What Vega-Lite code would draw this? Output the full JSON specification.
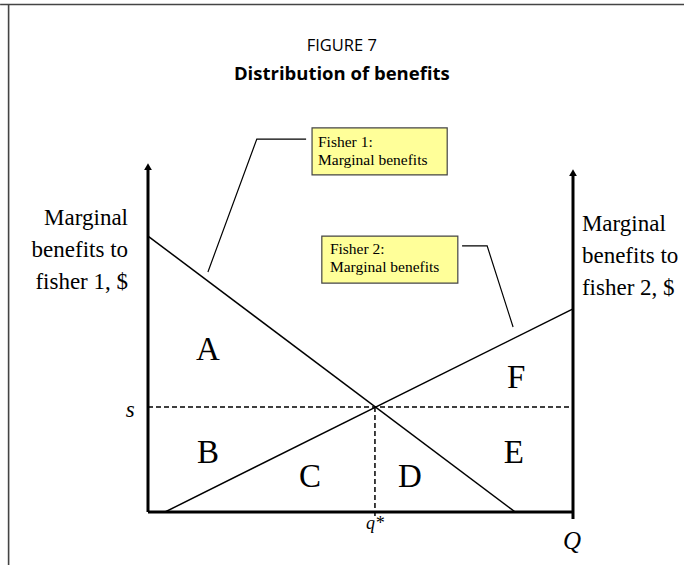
{
  "$schema": "https://vega.github.io/schema/vega-lite/v6.json",
  "width": 684,
  "height": 565,
  "padding": 0,
  "autosize": "none",
  "background": "white",
  "config": {"view": {"stroke": null}},
  "datasets": {
    "curves": [
      {"curve": "Fisher 1", "x": 0, "y": 131.4},
      {"curve": "Fisher 1", "x": 86.4, "y": 0},
      {"curve": "Fisher 2", "x": 4, "y": 0},
      {"curve": "Fisher 2", "x": 100, "y": 96.7}
    ],
    "leaders": [
      {"leader": "l1", "o": 1, "x": 37.2, "y": 177.6},
      {"leader": "l1", "o": 2, "x": 25.6, "y": 177.6},
      {"leader": "l1", "o": 3, "x": 14.1, "y": 114.3},
      {"leader": "l2", "o": 1, "x": 73.9, "y": 126.7},
      {"leader": "l2", "o": 2, "x": 79.8, "y": 126.7},
      {"leader": "l2", "o": 3, "x": 85.9, "y": 88.1}
    ],
    "axes": [
      {"x": 0, "y": 0, "x2": 0, "y2": 163},
      {"x": 100, "y": -3.3, "x2": 100, "y2": 160},
      {"x": 0, "y": 0, "x2": 100, "y2": 0}
    ],
    "arrows": [
      {"x": 0, "y": 164.5},
      {"x": 100, "y": 161.6}
    ],
    "dashed": [
      {"x": 0, "y": 50, "x2": 100, "y2": 50},
      {"x": 53.4, "y": 50, "x2": 53.4, "y2": -3}
    ],
    "frame": [
      {"x": -34.8, "y": 241.7, "x2": 126.2, "y2": 241.7},
      {"x": -32.8, "y": 241.9, "x2": -32.8, "y2": -25.3}
    ],
    "boxes": [
      {"x": 38.6, "x2": 70.4, "y": 182.9, "y2": 160.5},
      {"x": 40.9, "x2": 72.9, "y": 131.4, "y2": 109.0}
    ],
    "boxText": [
      {"x": 40.0, "y": 173.6, "label": ["Fisher 1:", "Marginal benefits"]},
      {"x": 42.8, "y": 122.7, "label": ["Fisher 2:", "Marginal benefits"]}
    ],
    "regions": [
      {"x": 14.1, "y": 77.1, "label": "A"},
      {"x": 14.1, "y": 28.1, "label": "B"},
      {"x": 38.1, "y": 16.7, "label": "C"},
      {"x": 61.6, "y": 16.7, "label": "D"},
      {"x": 86.1, "y": 28.1, "label": "E"},
      {"x": 86.6, "y": 63.8, "label": "F"}
    ],
    "sLabel": [{"x": -4.2, "y": 48.8, "label": "s"}],
    "qLabel": [{"x": 53.4, "y": -5.8, "label": "q*"}],
    "QLabel": [{"x": 99.8, "y": -14.0, "label": "Q"}],
    "axisLeft": [
      {"x": -4.7, "y": 136.7, "label": ["Marginal", "benefits to", "fisher 1, $"]}
    ],
    "axisRight": [
      {"x": 102.1, "y": 133.8, "label": ["Marginal", "benefits to", "fisher 2, $"]}
    ],
    "title1": [{"x": 45.6, "y": 221.9, "label": "FIGURE 7"}],
    "title2": [{"x": 45.6, "y": 208.6, "label": "Distribution of benefits"}]
  },
  "encoding": {
    "x": {"field": "x", "type": "quantitative", "scale": {"domain": [-34.824, 126.118], "nice": false, "zero": false}, "axis": null},
    "y": {"field": "y", "type": "quantitative", "scale": {"domain": [-25.238, 243.81], "nice": false, "zero": false}, "axis": null}
  },
  "layer": [
    {
      "data": {"name": "frame"},
      "mark": {"type": "rule", "color": "#444", "strokeWidth": 1.6},
      "encoding": {"x2": {"field": "x2"}, "y2": {"field": "y2"}}
    },
    {
      "data": {"name": "dashed"},
      "mark": {"type": "rule", "color": "black", "strokeWidth": 1.5, "strokeDash": [5, 3]},
      "encoding": {"x2": {"field": "x2"}, "y2": {"field": "y2"}}
    },
    {
      "data": {"name": "curves"},
      "mark": {"type": "line", "color": "black", "strokeWidth": 1.5},
      "encoding": {"detail": {"field": "curve"}}
    },
    {
      "data": {"name": "axes"},
      "mark": {"type": "rule", "color": "black", "strokeWidth": 3},
      "encoding": {"x2": {"field": "x2"}, "y2": {"field": "y2"}}
    },
    {
      "data": {"name": "arrows"},
      "mark": {"type": "point", "shape": "triangle-up", "filled": true, "color": "black", "size": 60, "opacity": 1}
    },
    {
      "data": {"name": "leaders"},
      "mark": {"type": "line", "color": "black", "strokeWidth": 1.2},
      "encoding": {"detail": {"field": "leader"}, "order": {"field": "o"}}
    },
    {
      "data": {"name": "boxes"},
      "mark": {"type": "rect", "fill": "#FFFF99", "stroke": "#444", "strokeWidth": 1.2},
      "encoding": {"x2": {"field": "x2"}, "y2": {"field": "y2"}}
    },
    {
      "data": {"name": "boxText"},
      "mark": {"type": "text", "align": "left", "baseline": "alphabetic", "font": "Liberation Serif", "fontSize": 15.5, "lineHeight": 17.5, "color": "black"},
      "encoding": {"text": {"field": "label"}}
    },
    {
      "data": {"name": "regions"},
      "mark": {"type": "text", "align": "center", "baseline": "middle", "font": "Liberation Serif", "fontSize": 33, "color": "black"},
      "encoding": {"text": {"field": "label"}}
    },
    {
      "data": {"name": "sLabel"},
      "mark": {"type": "text", "align": "center", "baseline": "middle", "font": "Liberation Serif", "fontStyle": "italic", "fontSize": 23, "color": "black"},
      "encoding": {"text": {"field": "label"}}
    },
    {
      "data": {"name": "qLabel"},
      "mark": {"type": "text", "align": "center", "baseline": "middle", "font": "Liberation Serif", "fontStyle": "italic", "fontSize": 18, "color": "black"},
      "encoding": {"text": {"field": "label"}}
    },
    {
      "data": {"name": "QLabel"},
      "mark": {"type": "text", "align": "center", "baseline": "middle", "font": "Liberation Serif", "fontStyle": "italic", "fontSize": 25, "color": "black"},
      "encoding": {"text": {"field": "label"}}
    },
    {
      "data": {"name": "axisLeft"},
      "mark": {"type": "text", "align": "right", "baseline": "alphabetic", "font": "Liberation Serif", "fontSize": 23, "lineHeight": 32, "color": "black"},
      "encoding": {"text": {"field": "label"}}
    },
    {
      "data": {"name": "axisRight"},
      "mark": {"type": "text", "align": "left", "baseline": "alphabetic", "font": "Liberation Serif", "fontSize": 23, "lineHeight": 32, "color": "black"},
      "encoding": {"text": {"field": "label"}}
    },
    {
      "data": {"name": "title1"},
      "mark": {"type": "text", "align": "center", "baseline": "middle", "font": "Open Sans", "fontSize": 16.5, "color": "black"},
      "encoding": {"text": {"field": "label"}}
    },
    {
      "data": {"name": "title2"},
      "mark": {"type": "text", "align": "center", "baseline": "middle", "font": "Open Sans", "fontSize": 18.5, "fontWeight": "bold", "color": "black"},
      "encoding": {"text": {"field": "label"}}
    }
  ]
}
